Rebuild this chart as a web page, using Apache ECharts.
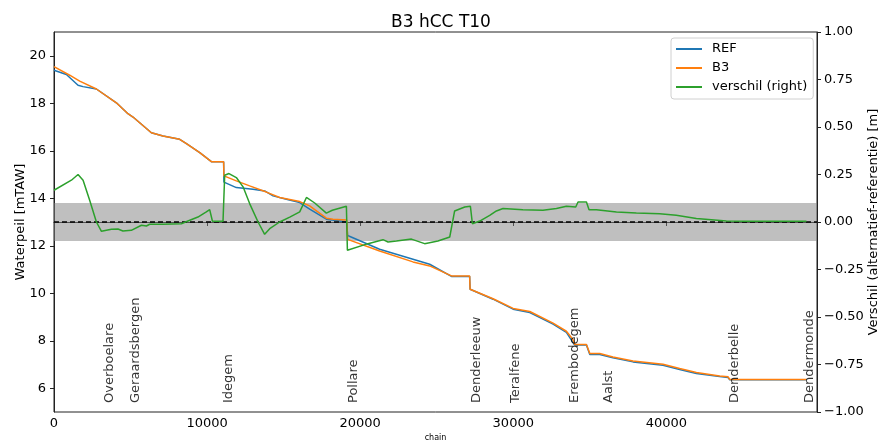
<!DOCTYPE html>
<html>
<head>
<meta charset="utf-8">
<script src="https://cdn.jsdelivr.net/npm/echarts@6/dist/echarts.min.js"></script>
<style>html,body{margin:0;padding:0;background:#fff}#c{width:882px;height:443px}</style>
</head>
<body>
<div id="c"></div>
<script>
var refChain = [0, 810, 1570, 1895, 2770, 4075, 4830, 5160, 6360, 7120, 8210, 8650, 9520, 10280, 11080, 11100, 11910, 13000, 13760, 14310, 15180, 16050, 16700, 17790, 19120, 19180, 21270, 23450, 24540, 25960, 27150, 27180, 28680, 29990, 31080, 32600, 33470, 34010, 34780, 35000, 35650, 36510, 37820, 39780, 40870, 41960, 43480, 44030, 44140, 49150];
var refLevel = [19.39, 19.21, 18.76, 18.70, 18.60, 18.02, 17.56, 17.42, 16.76, 16.62, 16.48, 16.30, 15.92, 15.54, 15.54, 14.68, 14.45, 14.38, 14.31, 14.10, 13.96, 13.82, 13.54, 13.12, 13.00, 12.43, 11.85, 11.43, 11.22, 10.71, 10.71, 10.17, 9.75, 9.33, 9.19, 8.70, 8.35, 7.82, 7.82, 7.42, 7.42, 7.28, 7.11, 6.97, 6.79, 6.62, 6.49, 6.45, 6.36, 6.36];

var b3Chain = [0, 1025, 1680, 2770, 4075, 4830, 5160, 6360, 7120, 8210, 8650, 9520, 10280, 11080, 11100, 11910, 12780, 13870, 14740, 16050, 16700, 17790, 18220, 19120, 19180, 21270, 23450, 24540, 25960, 27150, 27180, 28680, 29990, 31080, 32600, 33470, 33900, 34010, 34780, 35000, 35650, 36510, 37820, 39780, 40870, 41960, 43480, 44030, 44140, 49150];
var b3Level = [19.54, 19.18, 18.93, 18.60, 18.02, 17.56, 17.42, 16.76, 16.62, 16.48, 16.30, 15.92, 15.54, 15.54, 14.94, 14.73, 14.52, 14.26, 14.03, 13.86, 13.68, 13.16, 13.12, 13.08, 12.27, 11.78, 11.32, 11.15, 10.73, 10.73, 10.17, 9.77, 9.36, 9.23, 8.74, 8.40, 8.05, 7.84, 7.84, 7.46, 7.46, 7.32, 7.15, 7.01, 6.83, 6.66, 6.52, 6.48, 6.37, 6.37];

var diffChain = [0, 1135, 1570, 1900, 2330, 2770, 3100, 3750, 4180, 4500, 5050, 5710, 6035, 6250, 7120, 8320, 8750, 9400, 9950, 10170, 10350, 11040, 11150, 11430, 11910, 12350, 12780, 13330, 13760, 14090, 14740, 15400, 16050, 16490, 17030, 17790, 18180, 19100, 19165, 19205, 20510, 21490, 21820, 22370, 23350, 24210, 25080, 25850, 26170, 26830, 27200, 27330, 27810, 28460, 28900, 29330, 30630, 31940, 32820, 33470, 34080, 34230, 34780, 34950, 35430, 36740, 38040, 39560, 40650, 41960, 43920, 45230, 49150];
var diffValue = [0.167, 0.22, 0.25, 0.22, 0.114, 0, -0.049, -0.038, -0.037, -0.047, -0.044, -0.017, -0.021, -0.012, -0.012, -0.009, 0.005, 0.026, 0.053, 0.065, 0.004, 0.004, 0.246, 0.255, 0.234, 0.185, 0.097, 0, -0.065, -0.035, 0, 0.026, 0.053, 0.129, 0.1, 0.047, 0.062, 0.083, -0.149, -0.158, -0.114, -0.093, -0.105, -0.1, -0.09, -0.114, -0.1, -0.079, 0.058, 0.079, 0.083, -0.009, 0.005, 0.035, 0.058, 0.071, 0.065, 0.062, 0.071, 0.083, 0.079, 0.105, 0.105, 0.065, 0.065, 0.053, 0.047, 0.044, 0.035, 0.018, 0.005, 0.004, 0.004];

var locationNames = ['Overboelare', 'Geraardsbergen', 'Idegem', 'Pollare', 'Denderleeuw', 'Teralfene', 'Erembodegem', 'Aalst', 'Denderbelle', 'Dendermonde'];
var locationChain = [3640, 5336, 11430, 19575, 27630, 30160, 34010, 36250, 44460, 49360];
var locationLevel = 5.38;

var xTicks = [0, 10000, 20000, 30000, 40000];
var leftTicks = [6, 8, 10, 12, 14, 16, 18, 20];
var bandLow = -0.1, bandHigh = 0.1;

function zip(a, b) { return a.map(function (v, i) { return [v, b[i]]; }); }

var FONT = 'DejaVu Sans';
var chart = echarts.init(document.getElementById('c'), null, { renderer: 'canvas' });
chart.setOption({
  animation: false,
  backgroundColor: '#fff',
  textStyle: { fontFamily: FONT },
  title: {
    text: 'B3 hCC T10', left: 'center', top: 9,
    textStyle: { fontFamily: FONT, fontSize: 17, fontWeight: 'normal', color: '#000' }
  },
  grid: { left: 54, right: 65, top: 32, bottom: 31, containLabel: false, outerBoundsMode: 'none', show: true, borderColor: '#222', borderWidth: 1, backgroundColor: 'transparent' },
  legend: {
    orient: 'vertical', left: 671, top: 38,
    data: [{ name: 'REF', icon: 'rect' }, { name: 'B3', icon: 'rect' }, { name: 'verschil (right)', icon: 'rect' }],
    itemWidth: 26, itemHeight: 2, itemGap: 3,
    padding: [3, 6, 4, 5],
    borderColor: '#d0d0d0', borderWidth: 1, borderRadius: 3, backgroundColor: 'rgba(255,255,255,0.8)',
    textStyle: { fontFamily: FONT, fontSize: 13, color: '#000', lineHeight: 16, padding: [0, 0, 0, 5] }
  },
  xAxis: {
    type: 'value', min: 0, max: 49840,
    name: 'chain', nameLocation: 'middle', nameGap: 22, nameMoveOverlap: false,
    nameTextStyle: { fontFamily: FONT, fontSize: 8, color: '#000' },
    axisLine: { show: true, lineStyle: { color: '#222', width: 1 } },
    axisTick: { show: true, inside: false, length: 4, customValues: xTicks, lineStyle: { color: '#222' } },
    axisLabel: { customValues: xTicks, margin: 5, fontFamily: FONT, fontSize: 13, color: '#000',
      formatter: function (v) { return String(v); } },
    splitLine: { show: false }
  },
  yAxis: [{
    type: 'value', min: 5, max: 21, position: 'left',
    name: 'Waterpeil [mTAW]', nameLocation: 'middle', nameGap: 27, nameRotate: 90, nameMoveOverlap: false,
    nameTextStyle: { fontFamily: FONT, fontSize: 13, color: '#000' },
    axisLine: { show: true, lineStyle: { color: '#222', width: 1 } },
    axisTick: { show: true, length: 4, customValues: leftTicks, lineStyle: { color: '#222' } },
    axisLabel: { customValues: leftTicks, margin: 8, fontFamily: FONT, fontSize: 13, color: '#000' },
    splitLine: { show: false }
  }, {
    type: 'value', min: -1, max: 1, interval: 0.25, position: 'right',
    name: 'Verschil (alternatief-referentie) [m]', nameLocation: 'middle', nameGap: 50, nameRotate: 90, nameMoveOverlap: false,
    nameTextStyle: { fontFamily: FONT, fontSize: 13, color: '#000' },
    axisLine: { show: true, lineStyle: { color: '#222', width: 1 } },
    axisTick: { show: true, length: 4, lineStyle: { color: '#222' } },
    axisLabel: {
      margin: 7, fontFamily: FONT, fontSize: 13, color: '#000',
      formatter: function (v) { return v.toFixed(2).replace('-', '\u2212'); }
    },
    splitLine: { show: false }
  }],
  series: [{
    name: 'REF', type: 'line', yAxisIndex: 0, data: zip(refChain, refLevel),
    showSymbol: false, symbol: 'none', color: '#1f77b4', lineStyle: { width: 1.5, color: '#1f77b4' }, z: 3
  }, {
    name: 'B3', type: 'line', yAxisIndex: 0, data: zip(b3Chain, b3Level),
    showSymbol: false, symbol: 'none', color: '#ff7f0e', lineStyle: { width: 1.5, color: '#ff7f0e' }, z: 4
  }, {
    name: 'verschil (right)', type: 'line', yAxisIndex: 1, data: zip(diffChain, diffValue),
    showSymbol: false, symbol: 'none', color: '#2ca02c', lineStyle: { width: 1.5, color: '#2ca02c' }, z: 5,
    markArea: {
      silent: true, z: 1,
      itemStyle: { color: 'rgba(128,128,128,0.5)' },
      data: [[{ yAxis: bandLow }, { yAxis: bandHigh }]]
    },
    markLine: {
      silent: true, symbol: 'none', label: { show: false },
      lineStyle: { color: '#000', type: [5, 3], width: 1.5 },
      data: [{ yAxis: 0 }]
    }
  }, {
    name: 'locations', type: 'scatter', yAxisIndex: 0,
    data: locationChain.map(function (c, i) { return { value: [c, locationLevel], name: locationNames[i] }; }),
    symbolSize: 0, silent: true, z: 6,
    label: {
      show: true, position: 'inside', rotate: 90, align: 'left', verticalAlign: 'middle',
      formatter: function (p) { return p.name; },
      fontFamily: FONT, fontSize: 13, color: '#000'
    }
  }]
});
</script>
</body>
</html>
